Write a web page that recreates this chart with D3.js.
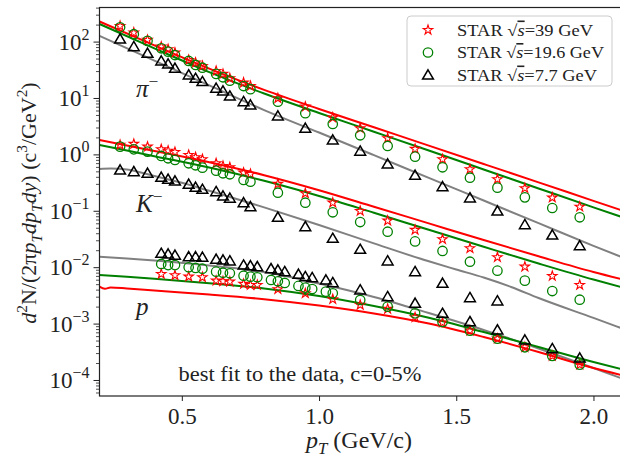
<!DOCTYPE html>
<html>
<head>
<meta charset="utf-8">
<script src="https://cdn.jsdelivr.net/npm/d3@7"></script>
<style>
  body { margin: 0; background: #fff; }
  svg text { font-family: "Liberation Serif", "DejaVu Serif", serif; fill: #222; }
</style>
</head>
<body>
<div id="chart"></div>
<script>
// ---- data ----
// measured points, pT in GeV/c
const piPt = [0.275, 0.325, 0.375, 0.425, 0.45, 0.475, 0.525, 0.55, 0.575, 0.625, 0.65, 0.675, 0.725, 0.75, 0.85,
              0.95, 1.05, 1.15, 1.25, 1.35, 1.45, 1.55, 1.65, 1.75, 1.85, 1.95];
const pi39  = [189, 144, 107, 81.3, 73.0, 63.6, 47.2, 42.3, 36.9, 30.1, 26.7, 22.3, 18.7, 16.3, 9.88,
               7.01, 4.48, 2.90, 1.93, 1.25, 0.819, 0.545, 0.362, 0.251, 0.171, 0.118];
const pi196 = [179, 135, 103, 76.0, 66.2, 57.8, 45.3, 38.5, 34.4, 26.7, 23.3, 20.3, 16.3, 14.3, 8.60,
               5.36, 3.46, 2.18, 1.41, 0.910, 0.590, 0.386, 0.257, 0.173, 0.112, 0.0767];
const pi77  = [111, 81.3, 62.1, 45.3, 40.1, 33.6, 25.6, 22.3, 19.5, 14.9, 13.3, 10.8, 8.60, 7.52, 4.80,
               2.90, 1.80, 1.14, 0.676, 0.426, 0.267, 0.169, 0.0991, 0.0568, 0.0372, 0.0240];

const kPt = piPt;
const kPt77 = [0.275, 0.325, 0.375, 0.425, 0.45, 0.475, 0.525, 0.55, 0.575, 0.625, 0.65, 0.675, 0.725, 0.75, 0.85,
               0.95, 1.05, 1.15, 1.25, 1.35, 1.45, 1.55, 1.65];
const k39  = [1.47, 1.53, 1.37, 1.23, 1.16, 1.10, 0.975, 0.889, 0.819, 0.695, 0.622, 0.590, 0.474, 0.449, 0.299,
              0.204, 0.139, 0.0991, 0.0667, 0.0457, 0.0313, 0.0216, 0.0150, 0.0102, 0.00698, 0.00483];
const k196 = [1.37, 1.23, 1.12, 0.938, 0.853, 0.797, 0.695, 0.641, 0.581, 0.514, 0.462, 0.444, 0.352, 0.328, 0.209,
              0.139, 0.0940, 0.0632, 0.0425, 0.0286, 0.0194, 0.0125, 0.00867, 0.00577, 0.00378, 0.00265];
const k77  = [0.528, 0.493, 0.462, 0.393, 0.362, 0.337, 0.295, 0.261, 0.240, 0.218, 0.183, 0.167, 0.139, 0.118, 0.0767,
              0.0522, 0.0325, 0.0207, 0.0129, 0.00832, 0.00519, 0.00288, 0.00252];

const pPt = [0.425, 0.45, 0.475, 0.525, 0.55, 0.575, 0.625, 0.65, 0.675, 0.725, 0.75, 0.775, 0.825, 0.85, 0.875,
             0.925, 0.95, 0.975, 1.025, 1.05, 1.15, 1.25, 1.35, 1.45, 1.55, 1.65, 1.75, 1.85, 1.95];
const pPt39 = [0.425, 0.475, 0.525, 0.575, 0.625, 0.65, 0.675, 0.725, 0.75, 0.775, 0.85,
               0.95, 1.05, 1.15, 1.25, 1.35, 1.45, 1.55, 1.65, 1.75, 1.85, 1.95];
const p39  = [0.00757, 0.00718, 0.00680, 0.00662, 0.00577, 0.00562, 0.00553, 0.00504, 0.00483, 0.00483, 0.00406,
              0.00344, 0.00270, 0.00214, 0.00182, 0.00129, 0.00104, 0.000748, 0.000540, 0.000380, 0.000267, 0.000187];
const p196 = [0.0114, 0.0109, 0.0109, 0.00995, 0.00969, 0.00940, 0.00832, 0.00798, 0.00780, 0.00706, 0.00680, 0.00662,
              0.00593, 0.00562, 0.00525, 0.00465, 0.00434, 0.00410, 0.00368, 0.00344, 0.00262, 0.00200, 0.00152,
              0.00107, 0.000748, 0.000540, 0.000380, 0.000267, 0.000187];
const p77  = [0.0176, 0.0171, 0.0163, 0.0153, 0.0153, 0.0150, 0.0138, 0.0134, 0.0129, 0.0109, 0.0106, 0.0102,
              0.00940, 0.00891, 0.00832, 0.00748, 0.00680, 0.00652, 0.00593, 0.00531, 0.00395, 0.00300, 0.00229,
              0.00152, 0.00108, 0.000771, 0.000512, 0.000359, 0.000245];

// fit curves
const piFitPt = [0.2, 0.4, 0.6, 0.8, 1.0, 1.2, 1.4, 1.6, 1.8, 2.0, 2.1];
const piFit39  = [227, 85.7, 33.2, 13.9, 6.38, 3.02, 1.43, 0.676, 0.319, 0.150, 0.103];
const piFit196 = [205, 75.7, 28.8, 12.0, 5.42, 2.52, 1.17, 0.540, 0.249, 0.115, 0.0785];
const piFit77  = [126, 45.8, 16.7, 6.11, 2.44, 0.968, 0.383, 0.152, 0.0603, 0.0239, 0.0153];

const kFitPt = [0.2, 0.3, 0.4, 0.6, 0.8, 1.0, 1.2, 1.4, 1.6, 1.8, 2.0, 2.1];
const kFit39  = [1.80, 1.44, 1.15, 0.728, 0.428, 0.232, 0.118, 0.0598, 0.0303, 0.0156, 0.00822, 0.00618];
const kFit196 = [1.47, 1.17, 0.929, 0.583, 0.340, 0.183, 0.0923, 0.0460, 0.0230, 0.0116, 0.00603, 0.00446];
const kFitPt77 = [0.2, 0.24, 0.3, 0.4, 0.5, 0.6, 0.8, 1.0, 1.2, 1.4, 1.5, 1.6, 1.7, 1.8, 2.0, 2.1];
const kFit77  = [0.551, 0.562, 0.540, 0.414, 0.313, 0.226, 0.115, 0.0560, 0.0264, 0.0127, 0.00910, 0.00656,
                 0.00446, 0.00284, 0.00126, 0.000836];

const pFitPt = [0.2, 0.3, 0.4, 0.6, 0.8, 1.0, 1.2, 1.4, 1.6, 1.8, 2.0, 2.1];
const pFit196 = [0.00728, 0.00676, 0.00625, 0.00520, 0.00419, 0.00308, 0.00205, 0.00127, 0.000710, 0.000385, 0.000208, 0.000157];
const pFit77  = [0.0153, 0.0143, 0.0132, 0.0107, 0.00822, 0.00514, 0.00297, 0.00154, 0.000771, 0.000362, 0.000163, 0.000108];
const pFitPt39 = [0.2, 0.22, 0.24, 0.3, 0.4, 0.6, 0.8, 1.0, 1.2, 1.4, 1.6, 1.8, 2.0, 2.1];
const pFit39  = [0.00451, 0.00414, 0.00437, 0.00419, 0.00386, 0.00328, 0.00271, 0.00209, 0.00151, 0.00100,
                 0.000578, 0.000313, 0.000163, 0.000123];

const xTicks = [0.5, 1.0, 1.5, 2.0];
const yExps = [-4, -3, -2, -1, 0, 1, 2];
const energies = ["39", "19.6", "7.7"];

// ---- setup ----
const W = 620, H = 459;
const L = 99.5, T = 7.5, B = 396;
const svg = d3.select("#chart").append("svg").attr("width", W).attr("height", H);

const x = d3.scaleLinear().domain([0.2, 2.1]).range([L, 620.9]);
const y = d3.scaleLog().domain([5.2e-5, 402]).range([B, T]);

svg.append("clipPath").attr("id", "clip")
  .append("rect").attr("x", L).attr("y", T).attr("width", 621 - L).attr("height", B - T);

const colors = { "39": "#ff0000", "19.6": "#008000", "7.7": "#808080" };

// ---- fit lines ----
const line = d3.line().x(d => x(d[0])).y(d => y(d[1])).curve(d3.curveMonotoneX);
const fits = [
  [piFitPt, piFit77, "7.7"], [piFitPt, piFit196, "19.6"], [piFitPt, piFit39, "39"],
  [kFitPt77, kFit77, "7.7"], [kFitPt, kFit196, "19.6"], [kFitPt, kFit39, "39"],
  [pFitPt, pFit77, "7.7"], [pFitPt, pFit196, "19.6"], [pFitPt39, pFit39, "39"]
];
const gLines = svg.append("g").attr("clip-path", "url(#clip)");
fits.forEach(([pt, v, e]) => {
  gLines.append("path")
    .datum(pt.map((p, i) => [p, v[i]]))
    .attr("d", line)
    .attr("fill", "none")
    .attr("stroke", colors[e])
    .attr("stroke-width", 2);
});

// ---- markers ----
const star = d3.symbol().type(d3.symbolStar).size(28)();
const circ = d3.symbol().type(d3.symbolCircle).size(70)();
const tri = "M0,-5.2L5.4,4L-5.4,4Z";
function styleMarker(sel, e) {
  sel.attr("fill", "none");
  if (e === "39") sel.attr("d", star).attr("stroke", "#ff0000").attr("stroke-width", 1.1);
  if (e === "19.6") sel.attr("d", circ).attr("stroke", "#008000").attr("stroke-width", 1.3);
  if (e === "7.7") sel.attr("d", tri).attr("stroke", "#000").attr("stroke-width", 1.5);
}
function drawMarkers(pt, v, e) {
  const g = svg.append("g").attr("clip-path", "url(#clip)");
  g.selectAll("path").data(pt.map((p, i) => [p, v[i]])).enter().append("path")
    .attr("transform", d => `translate(${x(d[0])},${y(d[1])})`)
    .call(styleMarker, e);
}
drawMarkers(piPt, pi39, "39");
drawMarkers(piPt, pi196, "19.6");
drawMarkers(piPt, pi77, "7.7");
drawMarkers(kPt, k39, "39");
drawMarkers(kPt, k196, "19.6");
drawMarkers(kPt77, k77, "7.7");
drawMarkers(pPt39, p39, "39");
drawMarkers(pPt, p196, "19.6");
drawMarkers(pPt, p77, "7.7");

// ---- axes ----
const xAxis = svg.append("g").attr("transform", `translate(0,${B})`)
  .call(d3.axisBottom(x).tickValues(xTicks).tickFormat(d3.format(".1f")).tickSize(5).tickPadding(7));
xAxis.select(".domain").remove();
xAxis.selectAll("line").attr("stroke", "#222").attr("stroke-width", 1);
xAxis.selectAll("text").style("font-size", "23px").attr("fill", "#222");

const majors = yExps.map(e => Math.pow(10, e));
const minors = [];
for (let e = -5; e <= 2; e++) for (let k = 2; k <= 9; k++) {
  const v = k * Math.pow(10, e);
  if (v > 5.2e-5 && v < 402) minors.push(v);
}
const yAxis = svg.append("g").attr("transform", `translate(${L},0)`)
  .call(d3.axisLeft(y).tickValues(majors).tickFormat("").tickSize(6));
yAxis.select(".domain").remove();
yAxis.selectAll("line").attr("stroke", "#222").attr("stroke-width", 1);
svg.append("g").attr("transform", `translate(${L},0)`)
  .call(d3.axisLeft(y).tickValues(minors).tickFormat("").tickSize(3.5))
  .call(g => g.select(".domain").remove())
  .selectAll("line").attr("stroke", "#222").attr("stroke-width", 0.8);

// y tick labels 10^n
yExps.forEach(e => {
  const t = svg.append("text")
    .attr("x", L - 10).attr("y", y(Math.pow(10, e)) + 8)
    .attr("text-anchor", "end").style("font-size", "23px");
  t.append("tspan").text("10");
  t.append("tspan").attr("dy", -10).style("font-size", "16px").text(e < 0 ? "\u2212" + (-e) : String(e));
});

// frame
svg.append("rect").attr("x", L).attr("y", T).attr("width", 620.9 - L).attr("height", B - T)
  .attr("fill", "none").attr("stroke", "#222").attr("stroke-width", 1.2);

// ---- rich text helper ----
function rich(sel, parts, size) {
  let shift = 0;
  parts.forEach(p => {
    const s = p.sup ? -0.4 : p.sub ? 0.25 : 0;
    const ts = sel.append("tspan").text(p.t).attr("dy", (s - shift) * size);
    shift = s;
    if (p.it) ts.style("font-style", "italic");
    if (p.sup || p.sub) ts.style("font-size", (size * 0.7) + "px");
    if (p.ol) ts.style("text-decoration", "overline");
  });
}

// axis labels
const xl = svg.append("text").attr("x", 359).attr("y", 448).attr("text-anchor", "middle")
  .style("font-size", "24px");
rich(xl, [{ t: "p", it: 1 }, { t: "T", it: 1, sub: 1 }, { t: " (GeV/c)" }], 24);

const yl = svg.append("text").attr("transform", "translate(36,203) rotate(-90)")
  .attr("text-anchor", "middle").style("font-size", "22px");
rich(yl, [
  { t: "d", it: 1 }, { t: "2", sup: 1 }, { t: "N/(2\u03c0" }, { t: "p", it: 1 }, { t: "T", it: 1, sub: 1 },
  { t: "dp", it: 1 }, { t: "T", it: 1, sub: 1 }, { t: "dy", it: 1 }, { t: ") (c" }, { t: "3", sup: 1 },
  { t: "/GeV" }, { t: "2", sup: 1 }, { t: ")" }
], 22);

// particle labels
const lab = [["\u03c0", 96.5], ["K", 211.5], ["p", 315]];
lab.forEach(([s, yy]) => {
  const t = svg.append("text").attr("x", 136).attr("y", yy).style("font-size", "25px");
  const parts = [{ t: s, it: 1 }];
  if (s !== "p") parts.push({ t: "\u2212", sup: 1 });
  rich(t, parts, 25);
});

svg.append("text").attr("x", 300).attr("y", 381).attr("text-anchor", "middle")
  .style("font-size", "20px").attr("textLength", 243).attr("lengthAdjust", "spacingAndGlyphs")
  .text("best fit to the data, c=0-5%");

// ---- legend ----
const legendW = { "39": 136, "19.6": 147, "7.7": 140 };
const lg = svg.append("g");
lg.append("rect").attr("x", 407).attr("y", 16).attr("width", 205).attr("height", 70).attr("rx", 4)
  .attr("fill", "#fff").attr("fill-opacity", 0.8).attr("stroke", "#ccc").attr("stroke-width", 1);
energies.forEach((e, i) => {
  const yy = 30 + i * 22.5;
  lg.append("path").attr("transform", `translate(428,${yy})`).call(styleMarker, e);
  const t = lg.append("text").attr("x", 457).attr("y", yy + 5.5).style("font-size", "16px")
    .attr("textLength", legendW[e]).attr("lengthAdjust", "spacingAndGlyphs");
  rich(t, [{ t: "STAR \u221a" }, { t: "s", it: 1, ol: 1 }, { t: "=" + e + " GeV" }], 16);
});
</script>
</body>
</html>
